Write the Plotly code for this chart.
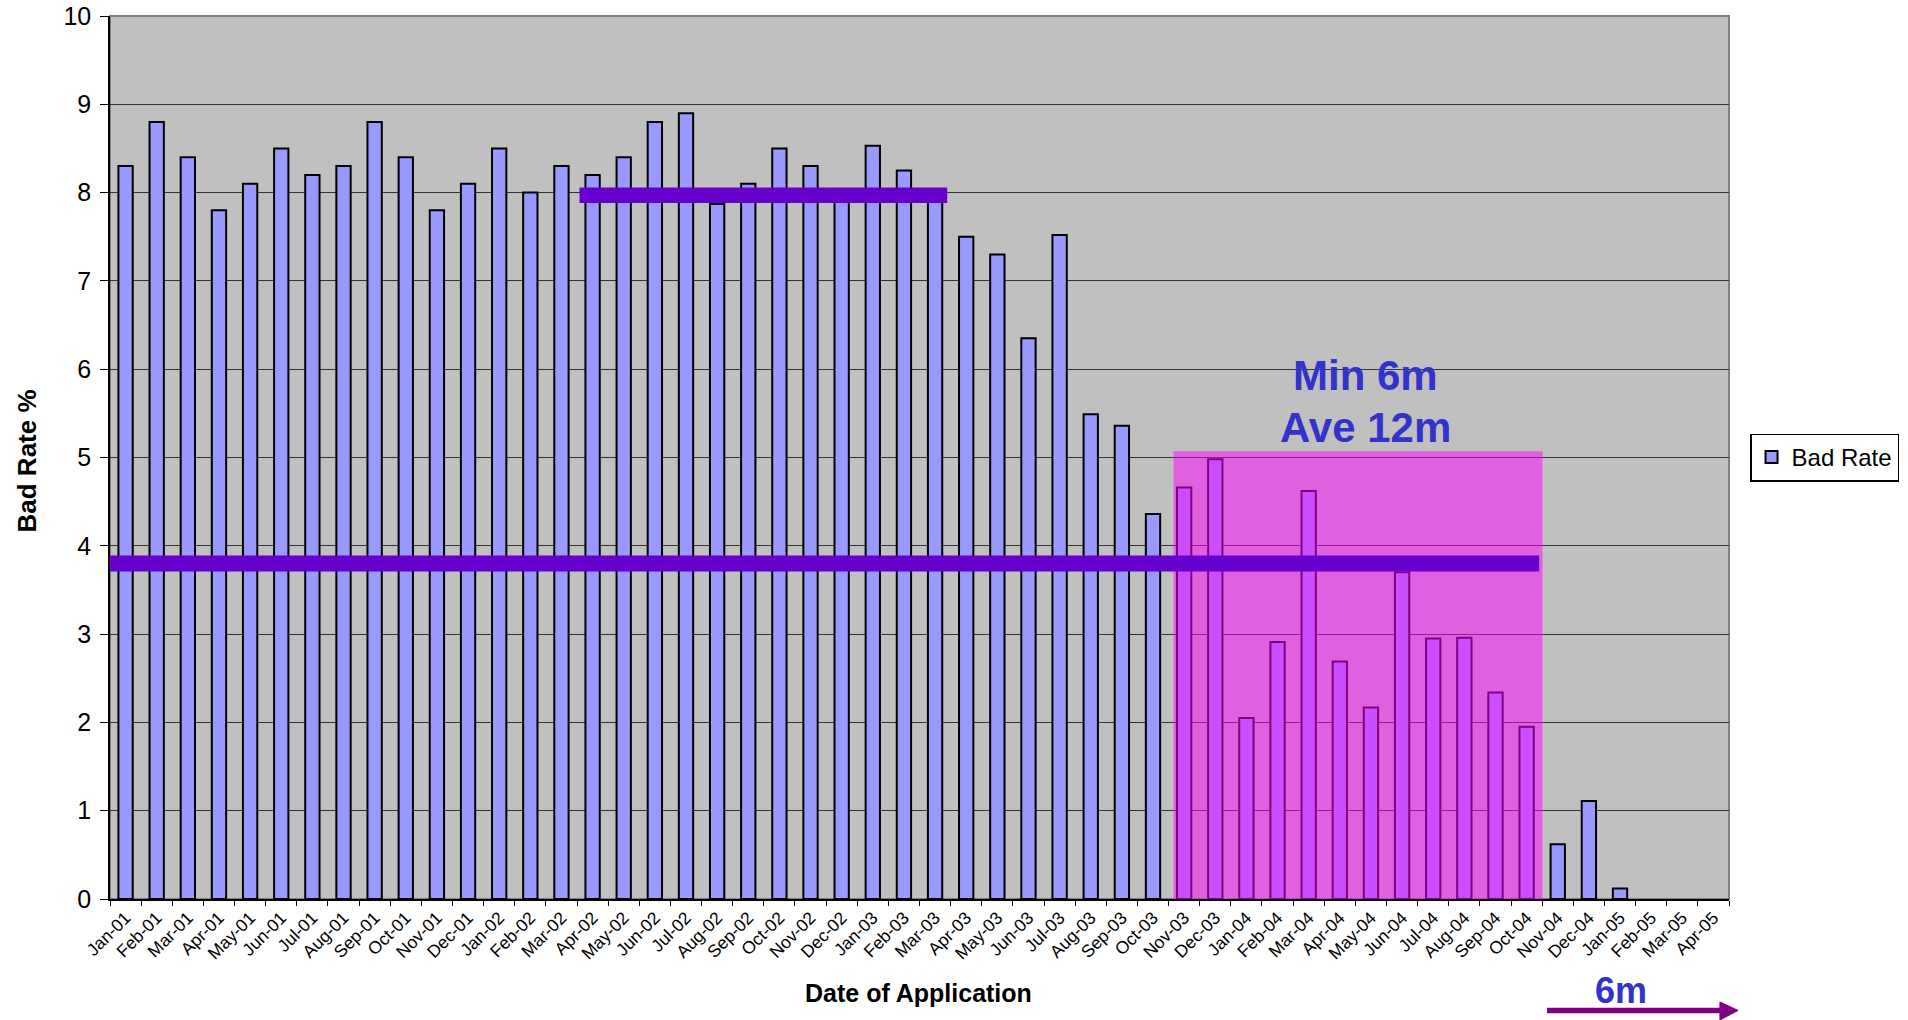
import plotly.graph_objects as go

# Monthly application cohorts and their bad rate (%)
months = [
    "Jan-01", "Feb-01", "Mar-01", "Apr-01", "May-01", "Jun-01", "Jul-01", "Aug-01", "Sep-01", "Oct-01", "Nov-01", "Dec-01",
    "Jan-02", "Feb-02", "Mar-02", "Apr-02", "May-02", "Jun-02", "Jul-02", "Aug-02", "Sep-02", "Oct-02", "Nov-02", "Dec-02",
    "Jan-03", "Feb-03", "Mar-03", "Apr-03", "May-03", "Jun-03", "Jul-03", "Aug-03", "Sep-03", "Oct-03", "Nov-03", "Dec-03",
    "Jan-04", "Feb-04", "Mar-04", "Apr-04", "May-04", "Jun-04", "Jul-04", "Aug-04", "Sep-04", "Oct-04", "Nov-04", "Dec-04",
    "Jan-05", "Feb-05", "Mar-05", "Apr-05",
]
bad_rate = [
    8.3, 8.8, 8.4, 7.8, 8.1, 8.5, 8.2, 8.3, 8.8, 8.4, 7.8, 8.1,
    8.5, 8.0, 8.3, 8.2, 8.4, 8.8, 8.9, 7.87, 8.1, 8.5, 8.3, 8.0,
    8.53, 8.25, 7.95, 7.5, 7.3, 6.35, 7.52, 5.49, 5.36, 4.36, 4.66, 4.98,
    2.05, 2.91, 4.62, 2.69, 2.17, 3.70, 2.95, 2.96, 2.34, 1.95, 0.62, 1.11,
    0.12, None, None, None,
]
y_ticks = [0, 1, 2, 3, 4, 5, 6, 7, 8, 9, 10]

# Reference levels drawn as thick bars across the chart
early_level = 7.97
overall_level = 3.80
# Highlighted maturity window (top of the shaded block, in %)
window_top = 5.07

FONT = "Arial, Liberation Sans, sans-serif"

fig = go.Figure()
fig.add_trace(go.Bar(
    x=months,
    y=bad_rate,
    name="Bad Rate",
    width=0.46,
    marker=dict(color="#9999FF", line=dict(color="#000000", width=2)),
))

shapes = [
    # outer plot frame (top/right in grey)
    dict(type="rect", xref="paper", yref="paper", x0=0, x1=1, y0=0, y1=1,
         line=dict(color="#808080", width=2), layer="below"),
    # translucent window over the latest 12 months
    dict(type="rect", xref="x", yref="y", x0=33.66, x1=45.51, y0=0, y1=window_top,
         fillcolor="rgba(255,0,255,0.5)", line=dict(width=0), layer="above"),
    # level bars
    dict(type="line", xref="x", yref="y", x0=14.58, x1=26.39, y0=early_level, y1=early_level,
         line=dict(color="#6600CC", width=15.5), layer="above"),
    dict(type="line", xref="x", yref="y", x0=-0.5, x1=45.4, y0=overall_level, y1=overall_level,
         line=dict(color="#6600CC", width=16), layer="above"),
    # 6 month arrow under the axis
    dict(type="line", xref="paper", yref="paper", x0=0.8876, x1=0.996, y0=-0.1262, y1=-0.1262,
         line=dict(color="#800080", width=5.5)),
    dict(type="path", xref="paper", yref="paper",
         path="M 0.9944 -0.1166 L 1.0056 -0.1262 L 0.9944 -0.1370 Z",
         fillcolor="#800080", line=dict(color="#800080", width=1)),
]

annotations = [
    dict(text="<b>Min 6m</b>", x=39.82, y=5.93, xref="x", yref="y", showarrow=False,
         xanchor="center", yanchor="middle", font=dict(family=FONT, size=42, color="#3333CC")),
    dict(text="<b>Ave 12m</b>", x=39.82, y=5.34, xref="x", yref="y", showarrow=False,
         xanchor="center", yanchor="middle", font=dict(family=FONT, size=42, color="#3333CC")),
    dict(text="<b>6m</b>", x=0.9333, y=-0.1036, xref="paper", yref="paper", showarrow=False,
         xanchor="center", yanchor="middle", font=dict(family=FONT, size=36, color="#3333CC")),
    dict(text="<b>Date of Application</b>", x=0.4992, y=-0.1064, xref="paper", yref="paper",
         showarrow=False, xanchor="center", yanchor="middle",
         font=dict(family=FONT, size=25, color="#000000")),
    dict(text="<b>Bad Rate %</b>", x=-0.0515, y=0.4962, xref="paper", yref="paper",
         showarrow=False, textangle=-90, xanchor="center", yanchor="middle",
         font=dict(family=FONT, size=26, color="#000000")),
]

fig.update_layout(
    width=1908,
    height=1020,
    margin=dict(l=109.5, r=179, t=15.7, b=121, autoexpand=False),
    paper_bgcolor="#FFFFFF",
    plot_bgcolor="#C0C0C0",
    font=dict(family=FONT, color="#000000"),
    bargap=0.54,
    shapes=shapes,
    annotations=annotations,
    showlegend=True,
    legend=dict(
        x=1.013, y=0.5, xanchor="left", yanchor="middle",
        bgcolor="#FFFFFF", bordercolor="#000000", borderwidth=1.5,
        font=dict(family=FONT, size=24, color="#000000"),
        itemwidth=30,
    ),
    xaxis=dict(
        type="category",
        categoryorder="array",
        categoryarray=months,
        range=[-0.5, len(months) - 0.5],
        tickson="boundaries",
        ticks="outside",
        ticklen=5,
        tickcolor="#000000",
        tickangle=-45,
        tickfont=dict(family=FONT, size=17.5, color="#000000"),
        showgrid=False,
        showline=True,
        linecolor="#000000",
        linewidth=1.5,
        zeroline=False,
        automargin=False,
    ),
    yaxis=dict(
        range=[0, 10],
        tickvals=y_ticks,
        ticktext=[str(v) for v in y_ticks],
        ticks="outside",
        ticklen=8,
        tickcolor="#000000",
        tickfont=dict(family=FONT, size=25, color="#000000"),
        ticklabelstandoff=4,
        showgrid=True,
        gridcolor="#333333",
        gridwidth=1.3,
        showline=True,
        linecolor="#000000",
        linewidth=1.5,
        zeroline=False,
        automargin=False,
    ),
)

fig.write_html("out.html")
